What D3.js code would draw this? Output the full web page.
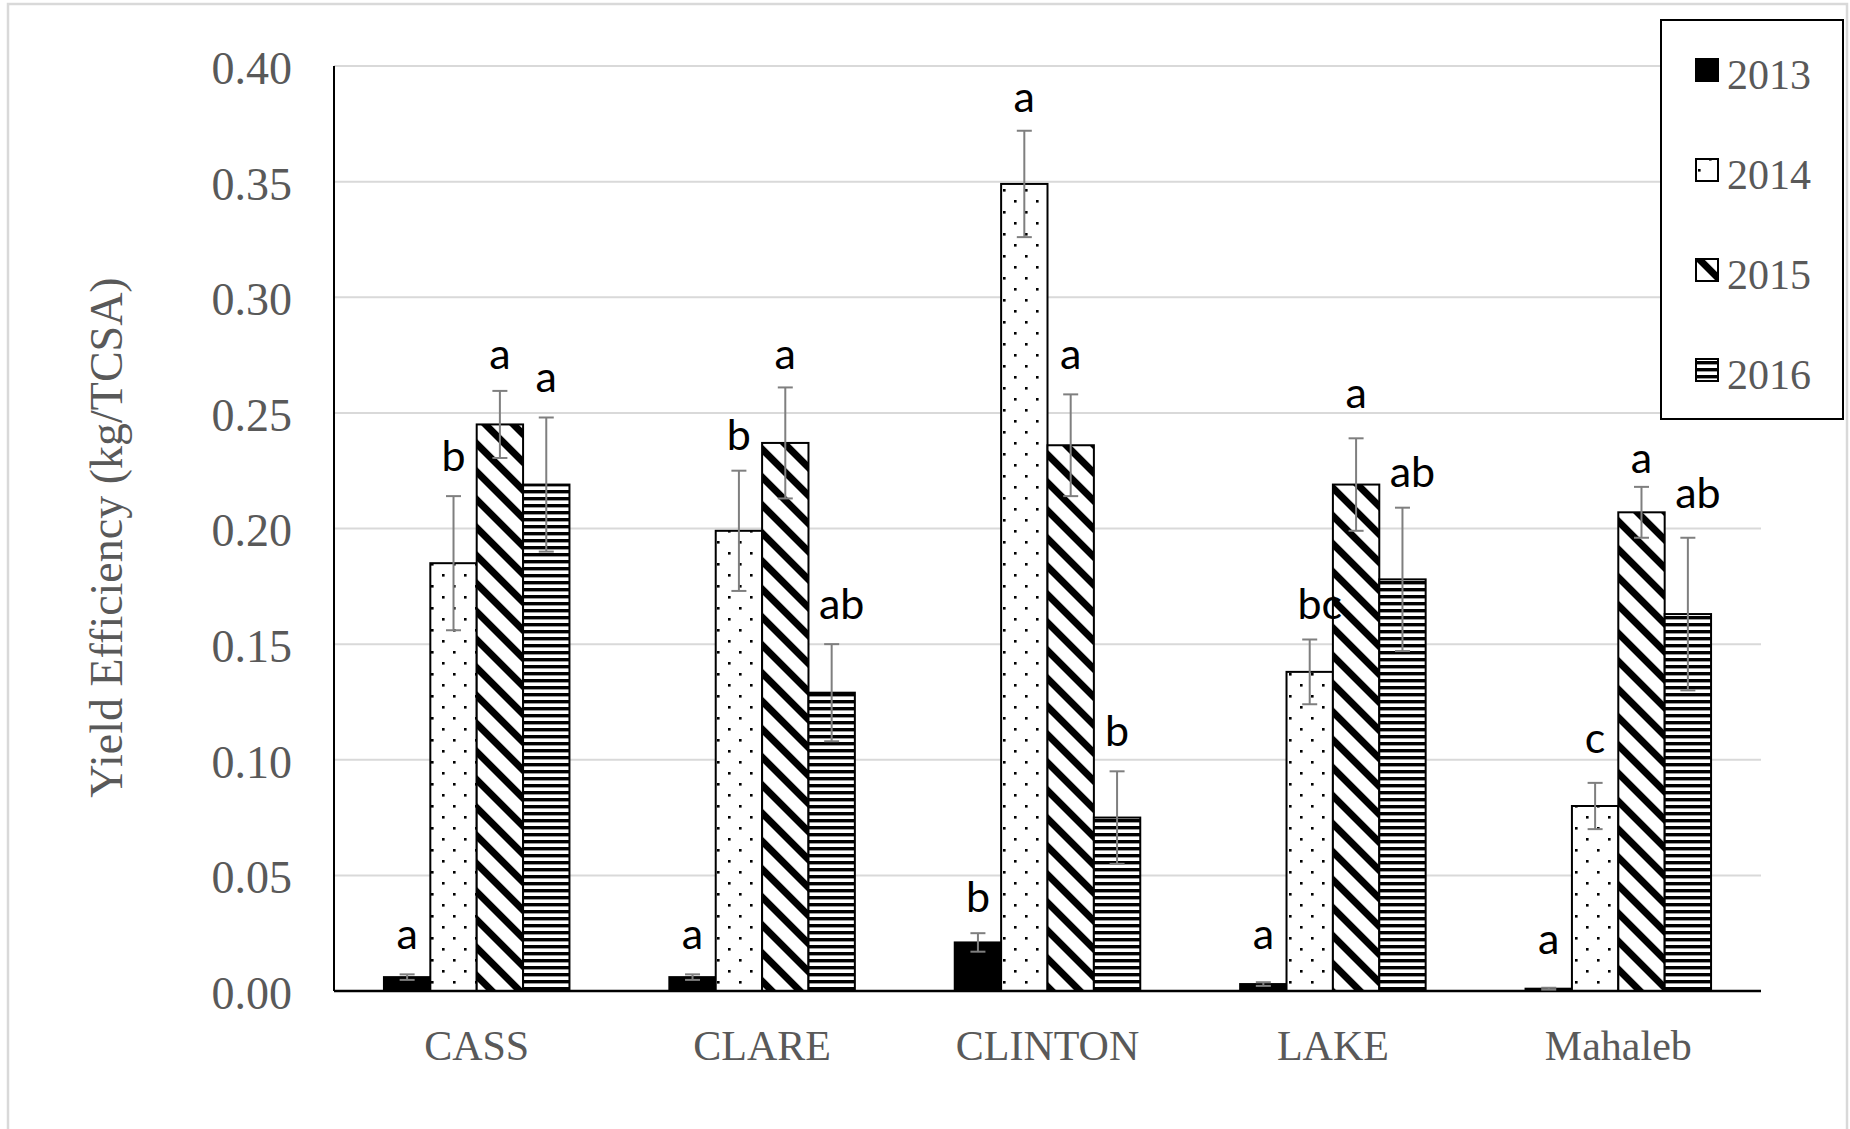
<!DOCTYPE html>
<html>
<head>
<meta charset="utf-8">
<script src="https://cdn.jsdelivr.net/npm/d3@7"></script>
<style>
  html, body { margin: 0; padding: 0; background: #fff; }
  svg { display: block; }
</style>
</head>
<body>
<svg id="chart" width="1850" height="1129"></svg>
<script>
// ---------------- DATA ----------------
const categories = ["CASS", "CLARE", "CLINTON", "LAKE", "Mahaleb"];
const years = ["2013", "2014", "2015", "2016"];

const v2013 = [0.006, 0.006, 0.021, 0.003, 0.001];
const v2014 = [0.185, 0.199, 0.349, 0.138, 0.080];
const v2015 = [0.245, 0.237, 0.236, 0.219, 0.207];
const v2016 = [0.219, 0.129, 0.075, 0.178, 0.163];

const e2013 = [0.0012, 0.0012, 0.004, 0.0008, 0.0004];
const e2014 = [0.029, 0.026, 0.023, 0.014, 0.010];
const e2015 = [0.0145, 0.024, 0.022, 0.020, 0.011];
const e2016 = [0.029, 0.021, 0.020, 0.031, 0.033];

// significance letters and the value at which each letter sits
const l2013 = ["a", "a", "b", "a", "a"];
const l2014 = ["b", "b", "a", "bc", "c"];
const l2015 = ["a", "a", "a", "a", "a"];
const l2016 = ["a", "ab", "b", "ab", "ab"];
const p2013 = [0.018, 0.018, 0.034, 0.018, 0.016];
const p2014 = [0.225, 0.234, 0.380, 0.161, 0.103];
const p2015 = [0.269, 0.269, 0.269, 0.252, 0.224];
const p2016 = [0.259, 0.161, 0.106, 0.218, 0.209];

const yTicks = [0, 0.05, 0.10, 0.15, 0.20, 0.25, 0.30, 0.35, 0.40];
const yTitle = "Yield Efficiency (kg/TCSA)";

const values = [v2013, v2014, v2015, v2016];
const errors = [e2013, e2014, e2015, e2016];
const letters = [l2013, l2014, l2015, l2016];
const letterPos = [p2013, p2014, p2015, p2016];

(function () {
// ---------------- LAYOUT ----------------
const svg = d3.select("#chart");
const pLeft = 334, pRight = 1761, pTop = 66, pBottom = 991;
const serif = "'Liberation Serif', 'Times New Roman', serif";
const sans = "Lato, 'Open Sans', sans-serif";
const grey = "#595959";

// outer chart border
svg.append("rect").attr("x", 8).attr("y", 4).attr("width", 1839).attr("height", 1140)
  .attr("fill", "#fff").attr("stroke", "#d9d9d9").attr("stroke-width", 2.5);

const x0 = d3.scaleBand().domain(categories).range([pLeft, pRight])
  .paddingInner(0.35).paddingOuter(0.175);
const x1 = d3.scaleBand().domain(years).range([0, x0.bandwidth()]);
const y = d3.scaleLinear().domain([0, 0.40]).range([pBottom, pTop]);

// ---------------- PATTERNS ----------------
const defs = svg.append("defs");
const pDots = defs.append("pattern").attr("id", "p2014").attr("patternUnits", "userSpaceOnUse")
  .attr("width", 22).attr("height", 22);
pDots.append("rect").attr("width", 22).attr("height", 22).attr("fill", "#fff");
pDots.append("rect").attr("x", 2).attr("y", 2).attr("width", 2.6).attr("height", 2.6).attr("fill", "#000");
pDots.append("rect").attr("x", 13).attr("y", 13).attr("width", 2.6).attr("height", 2.6).attr("fill", "#000");

const pDiag = defs.append("pattern").attr("id", "p2015").attr("patternUnits", "userSpaceOnUse")
  .attr("width", 19.8).attr("height", 19.8).attr("patternTransform", "rotate(-45)");
pDiag.append("rect").attr("width", 19.8).attr("height", 19.8).attr("fill", "#fff");
pDiag.append("rect").attr("x", 0).attr("width", 7).attr("height", 19.8).attr("fill", "#000");

const pHor = defs.append("pattern").attr("id", "p2016").attr("patternUnits", "userSpaceOnUse")
  .attr("width", 8).attr("height", 7);
pHor.append("rect").attr("width", 8).attr("height", 7).attr("fill", "#fff");
pHor.append("rect").attr("y", 0).attr("width", 8).attr("height", 3.4).attr("fill", "#000");

const fills = ["#000", "url(#p2014)", "url(#p2015)", "url(#p2016)"];

// ---------------- GRID ----------------
svg.append("g").selectAll("line").data(yTicks.slice(1)).join("line")
  .attr("x1", pLeft).attr("x2", pRight)
  .attr("y1", d => y(d)).attr("y2", d => y(d))
  .attr("stroke", "#d9d9d9").attr("stroke-width", 2);

// ---------------- Y AXIS ----------------
const yAxis = d3.axisLeft(y).tickValues(yTicks).tickFormat(d3.format(".2f")).tickSize(0).tickPadding(42);
const yg = svg.append("g").attr("transform", `translate(${pLeft},0)`).call(yAxis);
yg.select(".domain").remove();
yg.selectAll("text").attr("font-family", serif).attr("font-size", 46).attr("fill", grey).attr("dy", "0.38em");

svg.append("line").attr("x1", pLeft).attr("x2", pLeft).attr("y1", pTop).attr("y2", pBottom)
  .attr("stroke", "#000").attr("stroke-width", 2);

// ---------------- X AXIS LABELS ----------------
const xAxis = d3.axisBottom(x0).tickSize(0).tickPadding(0);
const xg = svg.append("g").attr("transform", `translate(0,${pBottom})`).call(xAxis);
xg.select(".domain").remove();
xg.selectAll("text").attr("font-family", serif).attr("font-size", 42).attr("fill", grey)
  .attr("dy", null).attr("y", 69);

// ---------------- BARS ----------------
const rows = [];
categories.forEach((c, i) => years.forEach((yr, k) => rows.push({
  cat: c, year: yr, k: k, v: values[k][i], e: errors[k][i], l: letters[k][i], lp: letterPos[k][i]
})));

const bars = svg.append("g");
bars.selectAll("rect").data(rows).join("rect")
  .attr("x", d => x0(d.cat) + x1(d.year))
  .attr("y", d => y(d.v))
  .attr("width", x1.bandwidth())
  .attr("height", d => pBottom - y(d.v))
  .attr("fill", d => fills[d.k])
  .attr("stroke", "#000").attr("stroke-width", 2);

// baseline
svg.append("line").attr("x1", pLeft).attr("x2", pRight).attr("y1", pBottom).attr("y2", pBottom)
  .attr("stroke", "#000").attr("stroke-width", 2.5);

// ---------------- ERROR BARS ----------------
const eg = svg.append("g").attr("stroke", "#7f7f7f").attr("stroke-width", 2);
const cx = d => x0(d.cat) + x1(d.year) + x1.bandwidth() / 2;
eg.selectAll(".ev").data(rows).join("line").attr("class", "ev")
  .attr("x1", cx).attr("x2", cx)
  .attr("y1", d => y(d.v + d.e)).attr("y2", d => y(d.v - d.e));
eg.selectAll(".et").data(rows).join("line").attr("class", "et")
  .attr("x1", d => cx(d) - 7.5).attr("x2", d => cx(d) + 7.5)
  .attr("y1", d => y(d.v + d.e)).attr("y2", d => y(d.v + d.e));
eg.selectAll(".eb").data(rows).join("line").attr("class", "eb")
  .attr("x1", d => cx(d) - 7.5).attr("x2", d => cx(d) + 7.5)
  .attr("y1", d => y(d.v - d.e)).attr("y2", d => y(d.v - d.e));

// ---------------- LETTERS ----------------
svg.append("g").selectAll("text").data(rows).join("text")
  .attr("x", d => cx(d) + (d.l.length > 1 ? 10 : 0))
  .attr("y", d => y(d.lp))
  .attr("text-anchor", "middle")
  .attr("font-family", sans).attr("font-size", 43).attr("fill", "#000")
  .text(d => d.l);

// ---------------- Y TITLE ----------------
svg.append("text")
  .attr("transform", `translate(122,${(pTop + pBottom) / 2 + 9}) rotate(-90)`)
  .attr("text-anchor", "middle")
  .attr("font-family", serif).attr("font-size", 46).attr("fill", grey)
  .text(yTitle);

// ---------------- LEGEND ----------------
const lg = svg.append("g");
lg.append("rect").attr("x", 1661).attr("y", 20).attr("width", 182).attr("height", 399)
  .attr("fill", "#fff").attr("stroke", "#000").attr("stroke-width", 2);
const li = lg.selectAll("g").data(years).join("g")
  .attr("transform", (d, i) => `translate(1696,${89 + i * 100})`);
li.append("rect").attr("x", 0).attr("y", -30).attr("width", 22).attr("height", 22)
  .attr("fill", (d, i) => fills[i]).attr("stroke", "#000").attr("stroke-width", 2);
li.append("text").attr("x", 31).attr("y", 0)
  .attr("font-family", serif).attr("font-size", 42).attr("fill", grey)
  .text(d => d);
})();
</script>
</body>
</html>
